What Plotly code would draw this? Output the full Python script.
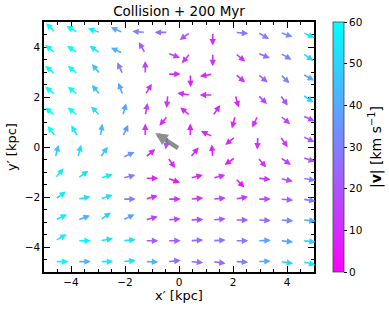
import numpy as np
import plotly.graph_objects as go

# grid of arrow tails (kpc)
grid_x = [-4.583, -3.75, -2.917, -2.083, -1.25, -0.417, 0.417, 1.25, 2.083, 2.917, 3.75, 4.583]
grid_y = [4.583, 3.75, 2.917, 2.083, 1.25, 0.417, -0.417, -1.25, -2.083, -2.917, -3.75, -4.583]

# arrow direction (deg, screen) per row (top -> bottom)
angles = [
    [135, 150, 162, 157, 175, 180, 215, 270, -5, -30, -20, -25],
    [140, 145, 145, 155, 120, -20, 230, 270, -40, -22, -30, -35],
    [140, 140, 130, 115, 90, 0, 272, 190, -40, -40, -45, -30],
    [140, 140, 130, 110, 60, 265, 172, 180, 285, -45, -55, -35],
    [140, 140, 135, 75, 80, 230, 140, 55, 255, 245, -40, -25],
    [125, 120, 80, 65, 90, 260, 90, 155, 220, 268, -55, -25],
    [75, 75, 55, 25, 40, -55, 50, 95, 215, -50, -35, -20],
    [50, 35, 18, 15, 0, -20, 15, 15, -45, -5, -15, -10],
    [35, 10, 18, 0, 15, 0, 5, 5, 10, 0, -5, -10],
    [25, 20, 35, 25, 15, 5, 2, 5, 0, -3, -5, -5],
    [30, 0, 10, 5, 0, 0, 3, 3, 0, 2, -5, -5],
    [0, 0, 0, 5, -2, 5, -5, -8, -3, 2, -8, -15],
]
# speed |v| (km/s)
speeds = [
    [60, 60, 55, 40, 30, 25, 20, 10, 28, 30, 35, 55],
    [60, 60, 55, 42, 22, 15, 12, 12, 12, 25, 32, 50],
    [60, 60, 45, 30, 15, 10, 8, 10, 12, 22, 32, 40],
    [60, 60, 45, 38, 12, 12, 10, 10, 8, 15, 20, 50],
    [60, 60, 52, 40, 15, 10, 8, 10, 8, 10, 15, 18],
    [60, 55, 45, 35, 12, 20, 8, 8, 10, 10, 12, 22],
    [48, 52, 45, 35, 8, 10, 10, 8, 8, 12, 15, 20],
    [55, 52, 55, 28, 10, 5, 10, 12, 5, 12, 18, 30],
    [55, 52, 52, 30, 12, 12, 12, 15, 12, 18, 22, 30],
    [55, 42, 48, 38, 15, 15, 18, 20, 22, 25, 32, 40],
    [55, 58, 52, 52, 22, 22, 25, 28, 28, 38, 38, 50],
    [58, 42, 55, 52, 42, 25, 25, 25, 30, 40, 50, 55],
]
vmin, vmax = 0, 60
cbar_ticks = [0, 10, 20, 30, 40, 50, 60]

# galaxy motion arrow (tail, head) in kpc
motion_tail = (0.02, -0.08)
motion_head = (-0.88, 0.56)

W, H = 389, 311
ML, MR, MT, MB = 44, 75, 22, 39
xr, yr = (-5, 5), (-5, 5)
PW, PH = W - ML - MR, H - MT - MB
sx = PW / (xr[1] - xr[0])
sy = PH / (yr[1] - yr[0])
L = 13.0  # arrow length in px


def cool(v):
    s = (v - vmin) / (vmax - vmin)
    s = min(max(s, 0), 1)
    return f"rgb({int(round(255*(1-s)))},{int(round(255*s))},255)"


annotations = []
for j, yv in enumerate(grid_y):
    for i, xv in enumerate(grid_x):
        th = np.deg2rad(angles[j][i])
        hx = xv + L * np.cos(th) / sx
        hy = yv + L * np.sin(th) / sy
        annotations.append(dict(
            x=hx, y=hy, ax=xv, ay=yv, xref="x", yref="y", axref="x", ayref="y",
            showarrow=True, arrowhead=2, arrowsize=0.8, arrowwidth=1.6,
            arrowcolor=cool(speeds[j][i]), text=""))

annotations.append(dict(
    x=motion_head[0], y=motion_head[1], ax=motion_tail[0], ay=motion_tail[1],
    xref="x", yref="y", axref="x", ayref="y", showarrow=True, arrowhead=2,
    arrowsize=0.55, arrowwidth=4.5, arrowcolor="rgba(115,115,115,0.8)", text=""))

# colorbar title
annotations.append(dict(
    text="|<b>v</b>| [km s<sup>−1</sup>]", textangle=-90, showarrow=False,
    xref="paper", yref="paper", x=(375 - ML) / PW, y=0.5, xanchor="center", yanchor="middle",
    font=dict(family="DejaVu Sans", size=14, color="black")))

fig = go.Figure()
fig.add_trace(go.Scatter(
    x=[None], y=[None], mode="markers", hoverinfo="skip", showlegend=False,
    marker=dict(color=[vmin], cmin=vmin, cmax=vmax, size=0,
                colorscale=[[0, "rgb(255,0,255)"], [1, "rgb(0,255,255)"]],
                showscale=True,
                colorbar=dict(
                    x=(333 - ML) / PW, xanchor="left", xpad=0, y=0.5, yanchor="middle",
                    len=1.0, lenmode="fraction", ypad=0, thickness=11,
                    outlinewidth=0.8, outlinecolor="#444",
                    tickmode="array", tickvals=cbar_ticks,
                    ticks="outside", ticklen=3, tickwidth=1, tickcolor="black",
                    tickfont=dict(family="DejaVu Sans", size=10.5, color="black"),
                ))))

axis_common = dict(
    showgrid=False, zeroline=False, showline=True, linecolor="black", linewidth=1.5,
    mirror="allticks", ticks="inside", ticklen=6, tickwidth=1.3, tickcolor="black",
    dtick=2, tick0=0, automargin=False,
    minor=dict(ticks="inside", ticklen=3, tickwidth=1, tickcolor="black", dtick=0.5),
    tickfont=dict(family="DejaVu Sans", size=10.5, color="black"),
)
fig.update_xaxes(range=list(xr), title=dict(text="x′ [kpc]", standoff=3,
                 font=dict(family="DejaVu Sans", size=13, color="black")), **axis_common)
fig.update_yaxes(range=list(yr), title=dict(text="y′ [kpc]", standoff=5,
                 font=dict(family="DejaVu Sans", size=13, color="black")), **axis_common)

fig.update_layout(
    template="none",
    width=W, height=H, margin=dict(l=ML, r=MR, t=MT, b=MB, autoexpand=False),
    paper_bgcolor="white", plot_bgcolor="white",
    title=dict(text="Collision + 200 Myr", x=(ML + PW / 2) / W, xanchor="center",
               y=1 - 11 / H, yanchor="middle",
               font=dict(family="DejaVu Sans", size=13.5, color="black")),
    annotations=annotations,
)
fig.write_html("out.html", config={"displayModeBar": False},
               post_script="document.body.style.margin='0';")
